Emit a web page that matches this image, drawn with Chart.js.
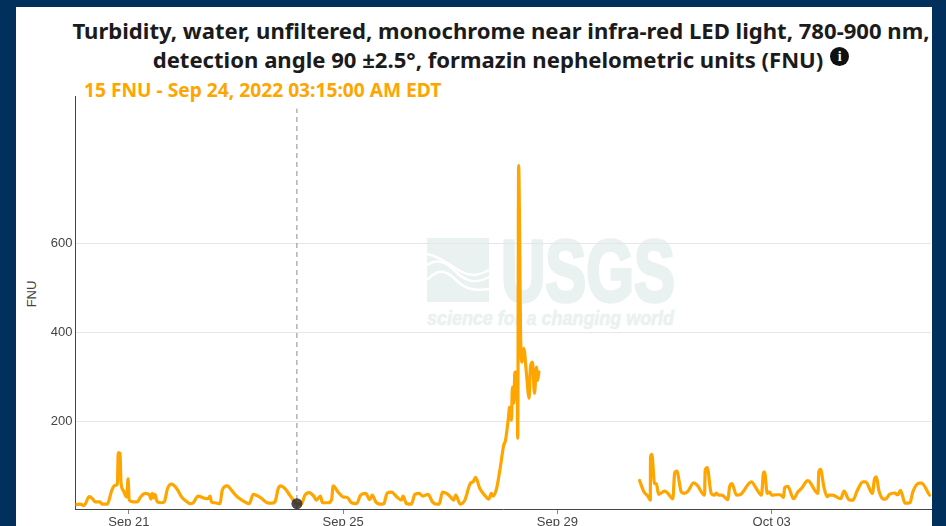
<!DOCTYPE html>
<html lang="en">
<head>
<meta charset="UTF-8">
<title>Turbidity FNU</title>
<script src="https://cdn.jsdelivr.net/npm/chart.js"></script>
<style>
  html, body { margin: 0; padding: 0; width: 946px; height: 526px; overflow: hidden; background: #00305b; }
  #panel { position: absolute; left: 16px; top: 7px; width: 916px; height: 519px; background: #fff; }
  #title { position: absolute; left: 72px; top: 16px; width: 858px; text-align: center; white-space: nowrap;
           font: 700 22.1px/29px "Noto Sans", sans-serif; color: #1b1b1b; }
  #info { display: inline-block; width: 19px; height: 19px; border-radius: 50%; background: #111; color: #fff;
          font: bold 14px/19px "Liberation Serif", serif; text-align: center; vertical-align: 7px; margin-left: 7px; }
  #hover { position: absolute; left: 84px; top: 77px; white-space: nowrap;
           font: 700 19.2px/26px "Noto Sans", sans-serif; color: #ffa500; }
  #ylabel { position: absolute; left: 31px; top: 294px; transform: translate(-50%, -50%) rotate(-90deg);
            font: 13px "Liberation Sans", Arial, sans-serif; color: #444; }
  #logo { position: absolute; left: 0; top: 0; }
  /* canvas is 5px wider than the panel because the x scale keeps a margin on its right */
  #wrap { position: absolute; left: 16px; top: 90px; width: 921px; height: 436px; overflow: hidden; }
</style>
</head>
<body>
<div id="panel"></div>
<svg id="logo" width="946" height="526">
  <rect x="427" y="238" width="62" height="64" fill="#e9f2f0"/>
  <g fill="none" stroke="#fff" stroke-width="2.5">
    <path d="M427 254 C440 256 450 266 462 272 C472 277 480 275 489 270"/>
    <path d="M427 265 C438 258 446 262 456 272 C466 282 476 284 489 277"/>
    <path d="M427 280 C438 268 446 270 456 280 C466 290 476 291 489 289"/>
  </g>
  <text x="501" y="301" textLength="174" lengthAdjust="spacingAndGlyphs" fill="#e9f2f0" stroke="#e9f2f0" stroke-width="3.5"
        font-family="Liberation Sans Narrow, Liberation Sans" font-weight="bold" font-size="87">USGS</text>
  <text x="427" y="325" textLength="247" lengthAdjust="spacingAndGlyphs" fill="#e9f2f0" stroke="#e9f2f0" stroke-width="0.5"
        font-family="Liberation Sans" font-weight="bold" font-style="italic" font-size="20">science for a changing world</text>
</svg>
<div id="title">Turbidity, water, unfiltered, monochrome near infra-red LED light, 780-900 nm,<br>detection angle 90 ±2.5°, formazin nephelometric units (FNU)<span id="info">i</span></div>
<div id="hover">15 FNU - Sep 24, 2022 03:15:00 AM EDT</div>
<div id="ylabel">FNU</div>
<div id="wrap"><canvas id="chart" width="921" height="436"></canvas></div>

<script>
// hours since Sep 20 2022 00:00 EDT, null marks the outage in the record
const hours = [
  0.3, 2.1, 3.9, 6.2, 7.7, 8.8, 11.0, 12.0, 14.3, 16.3, 17.7, 18.8, 19.2, 20.0, 20.4, 21.4, 23.0, 23.6, 24.1, 25.9,
  27.7, 29.2, 31.2, 33.1, 33.9, 34.4, 35.2, 35.6, 36.7, 38.6, 39.8, 41.3, 43.1, 45.4, 47.6, 49.8, 51.3, 52.8, 55.0, 57.3,
  59.5, 60.3, 61.0, 62.5, 64.8, 65.8, 68.0, 70.0, 72.2, 73.7, 75.9, 77.9, 79.7, 81.9, 84.1, 85.9, 87.9, 89.4, 90.9, 91.9,
  93.9, 96.1, 99.25, 101.3, 102.8, 104.7, 106.8, 107.9, 109.8, 110.7, 113.3, 114.8, 115.5, 117.7, 120.0, 121.8, 123.7, 126.0, 127.8, 130.1,
  131.9, 133.0, 134.6, 136.4, 138.2, 139.7, 141.6, 144.1, 146.1, 146.8, 148.4, 150.6, 152.1, 154.0, 155.8, 158.0, 160.0, 161.5, 163.0, 164.5,
  166.3, 168.1, 169.5, 170.4, 172.5, 174.5, 177.0, 178.2, 179.3, 181.2, 183.4, 185.2, 186.4, 187.1, 188.7, 190.4, 191.9, 192.7, 193.9, 194.6,
  195.4, 195.8, 196.5, 196.9, 197.9, 198.2, 198.6, 199.5, 200.1, 200.9, 202.1, 203.3, 203.9, 204.8, 205.7, 206.6, 207.0, 207.7, 230,
  252.8, 254.8, 256.5, 257.6, 257.7, 258.3, 259.5, 260.3, 261.3, 262.5, 264.0, 265.5, 267.7, 268.5, 269.5, 271.5, 273.0, 274.5, 277.1, 278.7,
  281.9, 282.2, 283.1, 284.9, 286.4, 287.2, 288.2, 289.7, 292.4, 293.1, 294.2, 296.2, 298.1, 302.9, 305.1, 307.4, 308.4, 308.8, 310.0, 311.0,
  312.1, 314.0, 315.8, 317.3, 317.8, 319.2, 321.8, 323.7, 325.3, 328.2, 332.7, 333.1, 333.9, 335.4, 336.9, 337.5, 339.4, 342.9, 344.4, 346.6,
  348.4, 350.2, 352.9, 354.1, 357.1, 358.1, 358.9, 360.0, 361.8, 363.0, 364.8, 367.0, 368.5, 369.7, 371.8, 374.0, 375.2, 378.2, 379.1, 382.7
];
const fnu = [
  13, 14, 11, 31, 26, 19, 19, 14, 14, 45, 56, 59, 130, 128, 64, 45, 30, 71, 23, 19,
  19, 30, 38, 35, 25, 38, 28, 36, 19, 17, 19, 49, 59, 49, 30, 20, 15, 17, 32, 28,
  26, 32, 19, 17, 15, 45, 55, 45, 32, 26, 19, 15, 36, 32, 24, 17, 16, 19, 49, 55,
  49, 34, 15, 14, 34, 40, 32, 23, 32, 17, 17, 24, 55, 41, 30, 29, 17, 15, 34, 38,
  24, 34, 19, 14, 15, 39, 41, 30, 23, 32, 15, 14, 36, 38, 32, 36, 19, 14, 14, 41,
  38, 30, 23, 34, 14, 23, 61, 64, 74, 49, 34, 25, 38, 32, 49, 97, 146, 157, 202, 232,
  202, 277, 241, 311, 311, 162, 775, 389, 333, 364, 308, 252, 322, 333, 263, 322, 292, 311, null,
  67, 41, 32, 23, 120, 126, 60, 60, 36, 39, 43, 38, 26, 83, 88, 41, 38, 43, 62, 56,
  34, 90, 96, 38, 34, 39, 34, 34, 24, 52, 60, 34, 36, 64, 49, 34, 86, 86, 38, 41,
  34, 35, 35, 29, 51, 54, 26, 41, 49, 67, 38, 86, 92, 52, 30, 34, 34, 26, 43, 24,
  23, 43, 64, 64, 38, 71, 75, 45, 26, 25, 36, 39, 35, 45, 16, 17, 41, 61, 61, 34
];

// hovered reading
const hoverHour = 99.25;
const hoverValue = 15;

const yMin = 3;
const yMax = 930;
const xMin = 0;
const xMax = 383.6;
const yTicks = [200, 400, 600];
const xTicks = [24, 120, 216, 312];
const xTickLabels = ['Sep 21', 'Sep 25', 'Sep 29', 'Oct 03'];

const tickFont = { family: '"Liberation Sans", Arial, sans-serif', size: 13 };

new Chart(document.getElementById('chart'), {
  type: 'line',
  data: {
    datasets: [
      {
        data: hours.map((h, i) => ({ x: h, y: fnu[i] })),
        borderColor: '#ffa500',
        borderWidth: 3.2,
        borderJoinStyle: 'round',
        borderCapStyle: 'round',
        pointRadius: 0,
        cubicInterpolationMode: 'monotone',
        spanGaps: false,
        order: 2
      },
      {
        // dashed hover guide
        data: [{ x: hoverHour, y: yMin }, { x: hoverHour, y: 903 }],
        borderColor: '#8a8a8a',
        borderWidth: 1,
        borderDash: [5, 4],
        pointRadius: 0,
        order: 3
      },
      {
        data: [{ x: hoverHour, y: hoverValue }],
        showLine: false,
        pointRadius: 5.5,
        pointBackgroundColor: 'rgba(45,45,45,0.85)',
        pointBorderWidth: 0,
        order: 1
      }
    ]
  },
  options: {
    responsive: false,
    animation: false,
    layout: { padding: { top: 6.6, left: 0, right: 0, bottom: 0 } },
    plugins: { legend: { display: false }, tooltip: { enabled: false } },
    scales: {
      x: {
        type: 'linear',
        min: xMin,
        max: xMax,
        afterFit: scale => {
          scale.height = 17;
          scale.paddingLeft = 0;
          scale.paddingRight = 0;
        },
        afterBuildTicks: scale => { scale.ticks = xTicks.map(v => ({ value: v })); },
        grid: { drawOnChartArea: false, drawTicks: true, tickLength: 5, tickColor: '#888' },
        border: { color: '#444', width: 1 },
        ticks: {
          autoSkip: false,
          maxRotation: 0,
          padding: 1,
          color: '#444',
          font: tickFont,
          callback: value => xTickLabels[xTicks.indexOf(value)]
        }
      },
      y: {
        type: 'linear',
        min: yMin,
        max: yMax,
        afterFit: scale => {
          scale.width = 59.4;
          scale.paddingTop = 0;
          scale.paddingBottom = 0;
        },
        afterBuildTicks: scale => { scale.ticks = yTicks.map(v => ({ value: v })); },
        grid: { color: '#e6e6e6', drawTicks: false },
        border: { color: '#444', width: 1 },
        ticks: { padding: 3, color: '#444', font: tickFont }
      }
    }
  }
});
</script>
</body>
</html>
